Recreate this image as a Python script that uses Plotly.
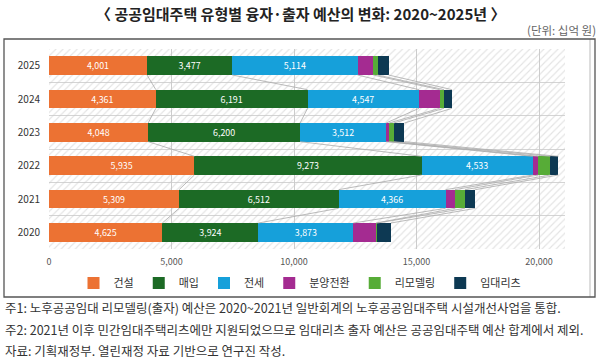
import plotly.graph_objects as go

years = ["2020", "2021", "2022", "2023", "2024", "2025"]
series_names = ["건설", "매입", "전세", "분양전환", "리모델링", "임대리츠"]
construct = [4625, 5309, 5935, 4048, 4361, 4001]
purchase = [3924, 6512, 9273, 6200, 6191, 3477]
jeonse = [3873, 4366, 4533, 3512, 4547, 5114]
conversion = [925, 381, 231, 122, 845, 641]
remodel = [54, 408, 490, 190, 176, 176]
reits = [558, 422, 327, 435, 327, 449]
labeled = [True, True, True, False, False, False]
colors = ["#EC7233", "#1C6A25", "#16A0DA", "#A42B91", "#57AC37", "#0D3953"]
x_ticks = [0, 5000, 10000, 15000, 20000]

values = [construct, purchase, jeonse, conversion, remodel, reits]
ypos = list(range(len(years)))
BAR_W = 0.56
FONT = "Noto Sans CJK KR"
X_RANGE = [0, 21060]
Y_RANGE = [-0.5, len(years) - 0.5]

fig = go.Figure()

# hatched plot background on the base axes
fig.add_trace(go.Scatter(
    x=[X_RANGE[0], X_RANGE[1], X_RANGE[1], X_RANGE[0], X_RANGE[0]],
    y=[Y_RANGE[0], Y_RANGE[0], Y_RANGE[1], Y_RANGE[1], Y_RANGE[0]],
    mode="lines", fill="toself", line=dict(width=0), fillcolor="rgba(0,0,0,0)",
    fillpattern=dict(shape="/", fgcolor="#c8c8c8", bgcolor="rgba(0,0,0,0)", size=5, solidity=0.22),
    hoverinfo="skip", showlegend=False, xaxis="x", yaxis="y"))

for name, vals, col, lab in zip(series_names, values, colors, labeled):
    fig.add_trace(go.Bar(
        y=ypos, x=vals, name=name, orientation="h", width=BAR_W,
        marker=dict(color=col, line=dict(width=0)),
        text=[f"{v:,}" for v in vals] if lab else None,
        textposition="inside" if lab else "none",
        insidetextanchor="middle",
        textfont=dict(color="white", size=10.5, family=FONT),
        hovertemplate="%{y}: %{x:,}<extra>" + name + "</extra>",
        xaxis="x", yaxis="y2",
    ))

# series lines connecting segment ends between adjacent bars
cum = []
for i in range(len(years)):
    s = 0
    row = []
    for vals in values:
        s += vals[i]
        row.append(s)
    cum.append(row)
lx, ly = [], []
for i in range(len(years) - 1):
    for k in range(len(values)):
        lx += [cum[i + 1][k], cum[i][k], None]
        ly += [ypos[i + 1] - BAR_W / 2, ypos[i] + BAR_W / 2, None]
fig.add_trace(go.Scatter(x=lx, y=ly, mode="lines", line=dict(color="#aaaaaa", width=0.8),
                         hoverinfo="skip", showlegend=False, xaxis="x", yaxis="y2"))

W, H = 516, 200
shapes = [
    dict(type="line", xref="paper", yref="paper",
         x0=(590 - 49) / W, x1=(590 - 49) / W, y0=(249 - 297) / H, y1=(249 - 39) / H,
         line=dict(color="#bbbbbb", width=1), layer="above"),
    dict(type="rect", xref="paper", yref="paper",
         x0=(4 - 49) / W, x1=(595 - 49) / W, y0=(249 - 297) / H, y1=(249 - 39) / H,
         line=dict(color="#555555", width=1.3), layer="above"),
]

annotations = [
    dict(text="<b>〈 공공임대주택 유형별 융자·출자 예산의 변화: 2020~2025년 〉</b>", xref="paper", yref="paper",
         x=(300 - 49) / W, y=(249 - 13) / H, xanchor="center", yanchor="middle", showarrow=False,
         font=dict(size=15, color="#222222", family=FONT)),
    dict(text="(단위: 십억 원)", xref="paper", yref="paper",
         x=(598 - 49) / W, y=(249 - 30) / H, xanchor="right", yanchor="middle", showarrow=False,
         font=dict(size=11.5, color="#666666", family=FONT)),
]
notes = [
    "주1: 노후공공임대 리모델링(출자) 예산은 2020~2021년 일반회계의 노후공공임대주택 시설개선사업을 통합.",
    "주2: 2021년 이후 민간임대주택리츠에만 지원되었으므로 임대리츠 출자 예산은 공공임대주택 예산 합계에서 제외.",
    "자료: 기획재정부. 열린재정 자료 기반으로 연구진 작성.",
]
note_y = [307, 329, 350]
for t, py in zip(notes, note_y):
    annotations.append(dict(text=t, xref="paper", yref="paper",
                            x=(3 - 49) / W, y=(249 - py) / H, xanchor="left", yanchor="middle",
                            showarrow=False, font=dict(size=12.5, color="#333333", family=FONT)))

fig.update_layout(
    width=600, height=362,
    margin=dict(l=49, r=35, t=49, b=113, autoexpand=False),
    barmode="stack",
    paper_bgcolor="white", plot_bgcolor="white",
    font=dict(family=FONT),
    showlegend=True,
    legend=dict(orientation="h", x=0.5, xref="container", xanchor="center",
                y=1 - 283 / 362, yref="container", yanchor="middle",
                traceorder="normal", font=dict(size=11, color="#333333", family=FONT),
                itemwidth=30, bgcolor="rgba(0,0,0,0)"),
    xaxis=dict(range=X_RANGE, tickvals=x_ticks, tickformat=",", showgrid=True, automargin=False,
               gridcolor="#cccccc", gridwidth=1, zeroline=False, showline=False,
               tickfont=dict(size=9, color="#555555", family=FONT), ticklabelstandoff=6),
    yaxis=dict(range=Y_RANGE, tickvals=ypos, ticktext=years, showgrid=False, zeroline=False,
               showline=False, automargin=False,
               minor=dict(tickmode="array", tickvals=[i - 0.5 for i in range(len(years) + 1)],
                          showgrid=True, gridcolor="#d4d4d4", gridwidth=1, ticks=""),
               tickfont=dict(size=10, color="#333333", family=FONT), ticklabelstandoff=8),
    yaxis2=dict(range=Y_RANGE, overlaying="y", visible=False, showgrid=False, zeroline=False),
    shapes=shapes,
    annotations=annotations,
)

fig.write_html("out.html", config={"displayModeBar": False},
               post_script="document.body.style.margin='0';")
